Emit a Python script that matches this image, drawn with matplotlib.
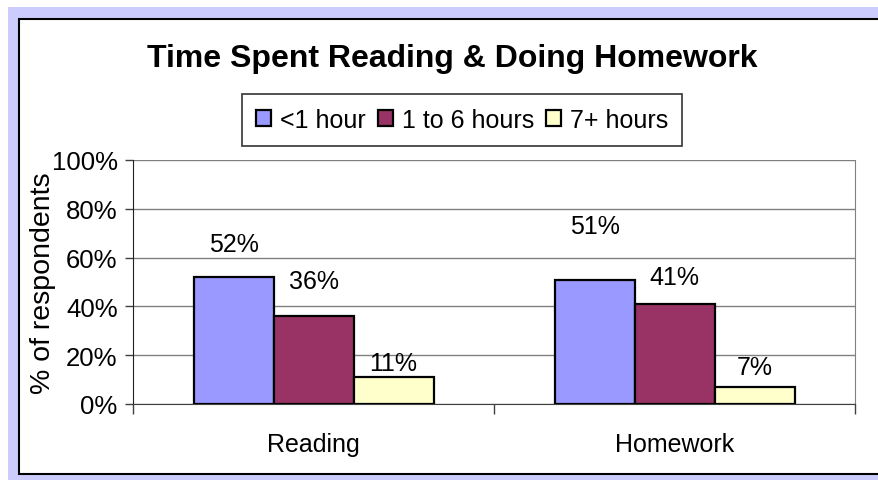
import numpy as np
import matplotlib
matplotlib.use("Agg")
import matplotlib.pyplot as plt
from matplotlib.patches import Rectangle

# dados
categorias = ["Reading", "Homework"]
series = ["<1 hour", "1 to 6 hours", "7+ hours"]
menos_1h = [52, 51]
de_1_a_6h = [36, 41]
mais_7h = [11, 7]
tick_labels = ["0%", "20%", "40%", "60%", "80%", "100%"]

cores = ["#9999FF", "#993366", "#FFFFCC"]
# deslocamento vertical dos rotulos (pixels acima da barra), como no original
desloc_rotulos = [[33, 54], [35, 27], [14, 20]]

plt.rcParams['font.family'] = ['Liberation Sans', 'DejaVu Sans']

W, H = 879, 481
fig = plt.figure(figsize=(W / 100, H / 100), dpi=100, facecolor="white")

# fundo lilas e painel branco com borda
fig.patches.append(Rectangle((8 / W, 0), 1, (H - 8) / H, transform=fig.transFigure,
                             facecolor="#CCCCFF", edgecolor="none", zorder=-3))
fig.patches.append(Rectangle((19 / W, (H - 475) / H), 1.0, (475 - 20) / H,
                             transform=fig.transFigure, facecolor="white",
                             edgecolor="black", linewidth=1.5, zorder=-2))

ax = fig.add_axes([133 / W, (H - 405) / H, (855 - 133) / W, (405 - 161) / H])
ax.set_facecolor("none")

x = np.arange(len(categorias))
largura = 80 / 361
valores = [menos_1h, de_1_a_6h, mais_7h]

for i, (nome, vals) in enumerate(zip(series, valores)):
    pos = x + (i - 1) * largura
    ax.bar(pos, vals, largura, color=cores[i], edgecolor="black", linewidth=1.6,
           label=nome, zorder=3)
    for j, v in enumerate(vals):
        ax.annotate(f"{v}%", (pos[j], v), xytext=(0, desloc_rotulos[i][j]),
                    textcoords="offset pixels", ha="center", va="center",
                    fontsize=18, zorder=4)

ax.set_xlim(-0.5, 1.5)
ax.set_ylim(0, 100)
ax.set_yticks(np.arange(0, 101, 20))
ax.set_yticklabels(tick_labels, fontsize=18.5)
ax.yaxis.grid(True, color="#808080", linewidth=1.0, zorder=0)
ax.set_axisbelow(True)

ax.set_xticks([-0.5, 0.5, 1.5])
ax.set_xticklabels([])
ax.tick_params(axis="x", length=7, width=1, color="#404040", direction="out")
ax.tick_params(axis="y", length=6, width=1, color="#404040", pad=5)
for j, c in enumerate(categorias):
    ax.text(x[j], -16.5, c, ha="center", va="center", fontsize=18,
            transform=ax.transData)

ax.spines["top"].set_visible(False)
ax.spines["left"].set_color("#202020")
ax.spines["bottom"].set_color("#404040")
ax.spines["right"].set_color("#808080")

ax.set_ylabel("% of respondents", fontsize=20.5)
ax.yaxis.set_label_coords(-0.106, 0.5)

fig.text(452 / W, (H - 59) / H, "Time Spent Reading & Doing Homework",
         ha="center", va="center", fontsize=23, fontweight="bold")

leg = fig.legend(loc="center", bbox_to_anchor=(462 / W, (H - 121) / H), ncol=3,
                 fontsize=18, frameon=True, fancybox=False, handlelength=0.6,
                 handleheight=0.6, handletextpad=0.35, columnspacing=0.5,
                 borderpad=0.55, edgecolor="black")
leg.get_frame().set_linewidth(1.2)

fig.savefig("out.png", dpi=100, facecolor=fig.get_facecolor())
